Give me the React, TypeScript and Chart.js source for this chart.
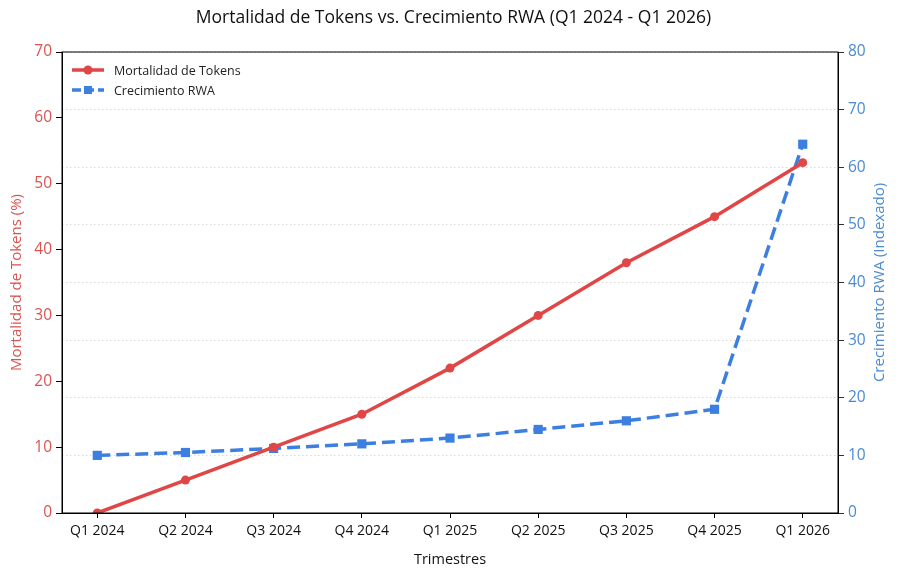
import { useEffect, useRef } from 'react'
import { Chart, registerables } from 'chart.js'

Chart.register(...registerables)

const quarters = ['Q1 2024', 'Q2 2024', 'Q3 2024', 'Q4 2024', 'Q1 2025', 'Q2 2025', 'Q3 2025', 'Q4 2025', 'Q1 2026']
const mortalidad = [0, 5, 10, 15, 22, 30, 38, 45, 53.2]
const crecimientoRWA = [10, 10.5, 11.2, 12, 13, 14.5, 16, 18, 64]

const RED = '#e04646'
const BLUE = '#3c7fe0'
const RED_TICK = '#d9534f'
const BLUE_TICK = '#4a8ad4'
const FONT = '"Open Sans", Roboto, sans-serif'
const RIGHT_TITLE = 'Crecimiento RWA (Indexado)'

// box round the plot area, legend inside it (top-left), right axis title read bottom-up
const boxAndLegend = {
  id: 'boxAndLegend',
  afterDatasetsDraw(chart: any) {
    const { ctx, chartArea } = chart
    ctx.save()
    ctx.strokeStyle = '#000'
    ctx.lineWidth = 1
    ctx.strokeRect(chartArea.left, chartArea.top, chartArea.right - chartArea.left, chartArea.bottom - chartArea.top)

    const x0 = chartArea.left + 10
    let y = chartArea.top + 18
    chart.data.datasets.forEach((ds: any) => {
      ctx.strokeStyle = ds.borderColor
      ctx.fillStyle = ds.borderColor
      ctx.lineWidth = 3.5
      ctx.setLineDash(ds.borderDash ? [9, 4] : [])
      ctx.beginPath()
      ctx.moveTo(x0, y)
      ctx.lineTo(x0 + 32, y)
      ctx.stroke()
      ctx.setLineDash([])
      if (ds.pointStyle === 'rect') {
        ctx.fillRect(x0 + 16 - 4, y - 4, 8, 8)
      } else {
        ctx.beginPath()
        ctx.arc(x0 + 16, y, 4.5, 0, Math.PI * 2)
        ctx.fill()
      }
      ctx.fillStyle = '#222'
      ctx.font = `12.5px ${FONT}`
      ctx.textBaseline = 'middle'
      ctx.textAlign = 'left'
      ctx.fillText(ds.label, x0 + 42, y + 1)
      y += 20
    })

    ctx.translate(chartArea.right + 42, (chartArea.top + chartArea.bottom) / 2)
    ctx.rotate(-Math.PI / 2)
    ctx.fillStyle = BLUE_TICK
    ctx.font = `15px ${FONT}`
    ctx.textAlign = 'center'
    ctx.textBaseline = 'middle'
    ctx.fillText(RIGHT_TITLE, 0, 0)
    ctx.restore()
  }
}

export default function App() {
  const chartRef = useRef<HTMLCanvasElement>(null)
  const chartInstance = useRef<Chart | null>(null)

  useEffect(() => {
    document.body.style.margin = '0'
    if (!chartRef.current) return

    const config: any = {
      type: 'line',
      data: {
        datasets: [
          {
            label: 'Mortalidad de Tokens',
            data: mortalidad.map((v, i) => ({ x: i, y: v })),
            borderColor: RED,
            backgroundColor: RED,
            borderWidth: 3.5,
            pointRadius: 4.5,
            pointBorderWidth: 0,
            pointStyle: 'circle',
            yAxisID: 'y',
            tension: 0
          },
          {
            label: 'Crecimiento RWA',
            data: crecimientoRWA.map((v, i) => ({ x: i, y: v })),
            borderColor: BLUE,
            backgroundColor: BLUE,
            borderWidth: 3.5,
            borderDash: [13, 6],
            pointRadius: 6.5,
            pointBorderWidth: 0,
            pointStyle: 'rect',
            yAxisID: 'y2',
            tension: 0
          }
        ]
      },
      options: {
        responsive: true,
        maintainAspectRatio: false,
        animation: false,
        layout: { padding: { left: 8, right: 0, bottom: 10, top: 0 } },
        plugins: {
          legend: { display: false },
          tooltip: { enabled: false },
          title: {
            display: true,
            text: 'Mortalidad de Tokens vs. Crecimiento RWA (Q1 2024 - Q1 2026)',
            color: '#111',
            font: { family: FONT, size: 17.5, weight: 'normal' },
            padding: { top: 8, bottom: 23 }
          }
        },
        scales: {
          x: {
            type: 'linear',
            min: -0.4,
            max: quarters.length - 1 + 0.4,
            afterBuildTicks: (axis: any) => {
              axis.ticks = quarters.map((_, i) => ({ value: i }))
            },
            afterFit: (s: any) => { s.height = 56 },
            ticks: {
              color: '#111',
              font: { family: FONT, size: 14 },
              maxRotation: 0,
              autoSkip: false,
              padding: 5,
              callback: (v: number) => quarters[v] ?? ''
            },
            grid: { drawOnChartArea: false, drawTicks: true, tickLength: 5, tickColor: '#000' },
            border: { color: '#000', width: 1 },
            title: {
              display: true,
              text: 'Trimestres',
              color: '#111',
              font: { family: FONT, size: 14.5 },
              padding: { top: 6, bottom: 0 }
            }
          },
          y: {
            position: 'left',
            min: 0,
            max: 70,
            afterFit: (s: any) => { s.width = 54 },
            ticks: { stepSize: 10, color: RED_TICK, font: { family: FONT, size: 15.5 }, padding: 4 },
            grid: { drawOnChartArea: false, drawTicks: true, tickLength: 6, tickColor: '#000' },
            border: { color: '#000', width: 1 },
            title: {
              display: true,
              text: 'Mortalidad de Tokens (%)',
              color: RED_TICK,
              font: { family: FONT, size: 15 },
              padding: { top: 0, bottom: 2 }
            }
          },
          y2: {
            position: 'right',
            min: 0,
            max: 80,
            afterFit: (s: any) => { s.width = 61 },
            ticks: { stepSize: 10, color: BLUE_TICK, font: { family: FONT, size: 15.5 }, padding: 4 },
            grid: {
              drawOnChartArea: true,
              drawTicks: true,
              tickLength: 6,
              tickColor: '#000',
              tickBorderDash: [],
              color: '#cfcfcf',
              lineWidth: 0.8
            },
            border: { color: '#000', width: 1, dash: [1.5, 2.5] },
            title: { display: false }
          }
        }
      },
      plugins: [boxAndLegend]
    }

    if (chartInstance.current) {
      chartInstance.current.destroy()
    }
    chartInstance.current = new Chart(chartRef.current, config)

    return () => {
      if (chartInstance.current) {
        chartInstance.current.destroy()
        chartInstance.current = null
      }
    }
  }, [])

  return (
    <div style={{ position: 'relative', width: 899, height: 579, background: '#fff' }}>
      <canvas ref={chartRef} />
    </div>
  )
}
